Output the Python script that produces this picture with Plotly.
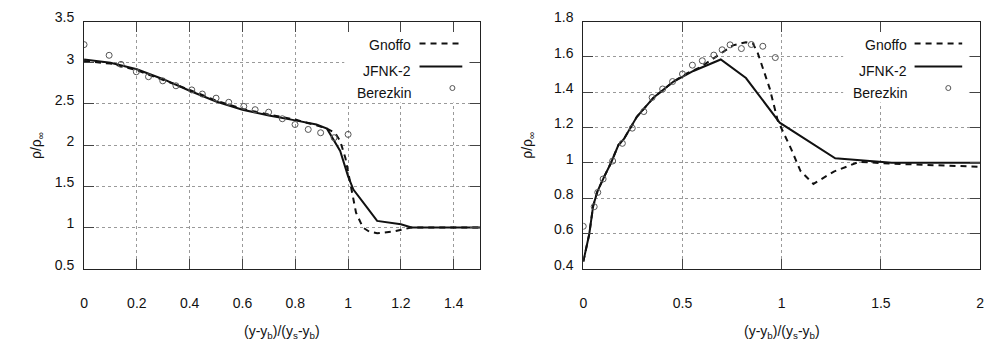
import plotly.graph_objects as go

# ---------------- data: left panel ----------------
L_gnoffo_x = [0, 0.1, 0.2, 0.3, 0.4, 0.5, 0.6, 0.7, 0.8, 0.88, 0.92, 0.95, 0.97, 0.99, 1.01, 1.03, 1.056, 1.08, 1.11, 1.17, 1.24, 1.5]
L_gnoffo_y = [3.02, 2.99, 2.91, 2.79, 2.67, 2.54, 2.44, 2.37, 2.31, 2.24, 2.2, 2.15, 2.05, 1.84, 1.5, 1.18, 1.0, 0.95, 0.93, 0.95, 1.0, 1.0]
L_jfnk_x = [0, 0.1, 0.2, 0.3, 0.4, 0.5, 0.6, 0.7, 0.8, 0.88, 0.92, 0.97, 1.0, 1.02, 1.07, 1.11, 1.2, 1.24, 1.5]
L_jfnk_y = [3.04, 3.0, 2.92, 2.8, 2.66, 2.53, 2.43, 2.36, 2.3, 2.25, 2.2, 1.93, 1.62, 1.46, 1.25, 1.08, 1.04, 1.0, 1.0]
L_ber_x = [0.0, 0.095, 0.14, 0.198, 0.244, 0.298, 0.348, 0.408, 0.448, 0.5, 0.548, 0.605, 0.648, 0.699, 0.751, 0.799, 0.849, 0.896, 0.947, 1.0]
L_ber_y = [3.22, 3.09, 2.98, 2.89, 2.83, 2.78, 2.72, 2.67, 2.62, 2.57, 2.52, 2.47, 2.43, 2.40, 2.32, 2.25, 2.19, 2.15, 2.09, 2.13]

# ---------------- data: right panel ----------------
R_gnoffo_x = [0, 0.03, 0.05, 0.072, 0.105, 0.14, 0.177, 0.205, 0.27, 0.355, 0.455, 0.52, 0.588, 0.67, 0.755, 0.82, 0.855, 0.88, 0.94, 0.98, 1.047, 1.095, 1.16, 1.263, 1.39, 1.555, 2.0]
R_gnoffo_y = [0.44, 0.595, 0.757, 0.84, 0.92, 1.0, 1.10, 1.135, 1.26, 1.37, 1.46, 1.505, 1.54, 1.60, 1.665, 1.683, 1.676, 1.62, 1.42, 1.24, 1.08, 0.953, 0.88, 0.95, 1.005, 0.995, 0.977]
R_jfnk_x = [0, 0.03, 0.05, 0.072, 0.105, 0.14, 0.177, 0.205, 0.27, 0.355, 0.455, 0.555, 0.693, 0.82, 0.99, 1.27, 1.555, 2.0]
R_jfnk_y = [0.44, 0.595, 0.757, 0.84, 0.92, 1.0, 1.10, 1.135, 1.26, 1.37, 1.46, 1.52, 1.585, 1.48, 1.227, 1.025, 1.0, 1.0]
R_ber_x = [0.0, 0.055, 0.073, 0.10, 0.148, 0.197, 0.247, 0.305, 0.347, 0.40, 0.45, 0.50, 0.55, 0.60, 0.658, 0.70, 0.74, 0.797, 0.847, 0.905, 0.968]
R_ber_y = [0.64, 0.751, 0.832, 0.908, 1.01, 1.11, 1.196, 1.29, 1.37, 1.418, 1.46, 1.503, 1.553, 1.578, 1.61, 1.64, 1.668, 1.647, 1.67, 1.66, 1.596]

series_names = ["Gnoffo", "JFNK-2", "Berezkin"]
x_title = "(y-y<sub>b</sub>)/(y<sub>s</sub>-y<sub>b</sub>)"
y_title = "ρ/ρ<sub>∞</sub>"

FONT = "Liberation Sans, Arial, Helvetica, sans-serif"
FS = 14
LINE_C = "#111111"
MARK_C = "#555555"
DASH = "6px,5px"

fig = go.Figure()

panels = [
    ("x", "y", L_gnoffo_x, L_gnoffo_y, L_jfnk_x, L_jfnk_y, L_ber_x, L_ber_y),
    ("x2", "y2", R_gnoffo_x, R_gnoffo_y, R_jfnk_x, R_jfnk_y, R_ber_x, R_ber_y),
]
for xa, ya, gx, gy, jx, jy, bx, by in panels:
    fig.add_trace(go.Scatter(x=gx, y=gy, mode="lines", xaxis=xa, yaxis=ya,
                             line=dict(color=LINE_C, width=2, dash=DASH),
                             name=series_names[0], showlegend=False))
    fig.add_trace(go.Scatter(x=jx, y=jy, mode="lines", xaxis=xa, yaxis=ya,
                             line=dict(color=LINE_C, width=2),
                             name=series_names[1], showlegend=False))
    fig.add_trace(go.Scatter(x=bx, y=by, mode="markers", xaxis=xa, yaxis=ya,
                             marker=dict(symbol="circle-open", size=6,
                                         color=MARK_C, line=dict(width=1)),
                             name=series_names[2], showlegend=False))

W, H = 990, 349
def dx(px):
    return px / W
def dy(py):
    return 1 - py / H

top, bottom = 10, 269
axis_common = dict(showline=True, linecolor="#222222", linewidth=1, mirror="ticks",
                   ticks="inside", ticklen=10, tickcolor="#444444", tickwidth=1,
                   showgrid=True, gridcolor="#9a9a9a", griddash="dot", gridwidth=1,
                   zeroline=False, ticklabeloverflow="allow",
                   tickfont=dict(family=FONT, size=FS, color="#111111"))

fig.update_layout(
    width=W, height=H, margin=dict(l=0, r=0, t=0, b=0),
    paper_bgcolor="white", plot_bgcolor="white",
    font=dict(family=FONT, size=FS, color="#111111"),
    showlegend=False,
    xaxis=dict(domain=[dx(80.7), dx(480)], range=[0, 1.5], tick0=0, dtick=0.2,
               anchor="y", ticklabelstandoff=22, **axis_common),
    yaxis=dict(domain=[dy(bottom), dy(top)], range=[0.5, 3.5], tick0=0.5, dtick=0.5,
               anchor="x", ticklabelstandoff=6, ticklabelshift=-4, **axis_common),
    xaxis2=dict(domain=[dx(584), dx(984)], range=[0, 2], tick0=0, dtick=0.5,
                anchor="y2", ticklabelstandoff=22, **axis_common),
    yaxis2=dict(domain=[dy(bottom), dy(top)], range=[0.4, 1.8], tick0=0.4, dtick=0.2,
                anchor="x2", ticklabelstandoff=6, ticklabelshift=-4, **axis_common),
)

# gnuplot-style key: text right-aligned, samples to the right, opaque white box
legend_cfg = [
    # xaxis, yaxis, box_x0, text_x, line_x0, line_x1, circle_x, ytitle_x
    ("x", "y", 0.657, 0.830, 0.847, 0.955, 0.930, -0.119),
    ("x2", "y2", 0.655, 0.820, 0.835, 0.955, 0.920, -0.14),
]
text_rows = [0.9035, 0.799, 0.710]
sample_rows = [0.911, 0.8185, 0.731]
for xa, ya, bx0, tx, lx0, lx1, cx, ytx in legend_cfg:
    xr, yr = xa + " domain", ya + " domain"
    fig.add_shape(type="rect", xref=xr, yref=yr, x0=bx0, x1=0.972, y0=0.672, y1=0.957,
                  fillcolor="white", line=dict(width=0), layer="above")
    for name, ty in zip(series_names, text_rows):
        fig.add_annotation(xref=xr, yref=yr, x=tx, y=ty, text=name, showarrow=False,
                           xanchor="right", yanchor="middle",
                           font=dict(family=FONT, size=FS, color="#111111"))
    fig.add_shape(type="line", xref=xr, yref=yr, x0=lx0, x1=lx1, y0=sample_rows[0], y1=sample_rows[0],
                  line=dict(color=LINE_C, width=2, dash=DASH), layer="above")
    fig.add_shape(type="line", xref=xr, yref=yr, x0=lx0, x1=lx1, y0=sample_rows[1], y1=sample_rows[1],
                  line=dict(color=LINE_C, width=2), layer="above")
    fig.add_shape(type="circle", xref=xr, yref=yr, xsizemode="pixel", ysizemode="pixel",
                  xanchor=cx, yanchor=sample_rows[2], x0=-2.5, x1=2.5, y0=-2.5, y1=2.5,
                  line=dict(color=MARK_C, width=1), layer="above")
    # axis titles
    fig.add_annotation(xref=xr, yref=yr, x=0.5, y=-0.255, text=x_title, showarrow=False,
                       xanchor="center", yanchor="middle",
                       font=dict(family=FONT, size=FS, color="#111111"))
    fig.add_annotation(xref=xr, yref=yr, x=ytx, y=0.5, text=y_title, showarrow=False,
                       textangle=-90, xanchor="center", yanchor="middle",
                       font=dict(family=FONT, size=FS, color="#111111"))

fig.write_html("out.html")
